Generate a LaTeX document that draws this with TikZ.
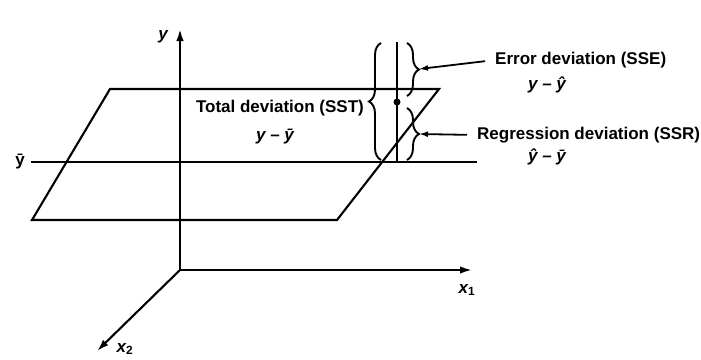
\documentclass[tikz,border=0pt]{standalone}
\usepackage{fontspec}
\setmainfont{Liberation Sans}
\usetikzlibrary{arrows.meta,decorations.pathreplacing}
\begin{document}
\begin{tikzpicture}[x=1pt, y=-1pt,
        line/.style={line width=2.1pt},
        axis/.style={line width=2.1pt, -{Latex[length=12pt,width=7.5pt]}},
        arrow/.style={line width=1.8pt, -{Latex[length=9pt,width=6pt]}, shorten <=10pt},
        bracebar/.style={line width=1.9pt, decorate, decoration={brace, amplitude=12pt}},
        lbl/.style={font=\bfseries\fontsize{17}{19}\selectfont, inner sep=0pt}
    ]
    \useasboundingbox (0,0) rectangle (701,359);
    % axes
    \coordinate (o) at (180,270);
    \coordinate (ytip) at (180,29);
    \coordinate (x1tip) at (472,270);
    \coordinate (x2tip) at (97,351);
    \draw[axis] (o) -- (ytip);
    \draw[axis] (o) -- (x1tip);
    \draw[axis] (o) -- (x2tip);
    \node[lbl] (ylab) at (163,37) {\itshape y};
    \node[lbl] (x1lab) at (467,290) {\itshape x\textsubscript{\upshape 1}};
    \node[lbl] (x2lab) at (125,349) {\itshape x\textsubscript{\upshape 2}};

    % regression plane and mean level
    \draw[line] (110,89) -- (439,89) -- (337,220) -- (32,220) -- cycle;
    \draw[line] (31,162) -- (477,162);
    \node[lbl] (ybar) at (20,162) {\=y};

    % deviations
    \draw[line] (397,42) -- (397,162);
    \fill (397,102) circle (3.5pt);
    \draw[bracebar] (381,160) -- (381,43);
    \draw[bracebar] (407,43) -- (407,96);
    \draw[bracebar] (407,108) -- (407,160);
    \coordinate (sst) at (369,101);
    \coordinate (sse) at (419,69);
    \coordinate (ssr) at (419,134);

    % labels
    \node[lbl, anchor=east] (total) at (364,108) {Total deviation (SST)};
    \node[lbl] (totalf) at (275,137) {\itshape y \upshape\textendash\ \itshape\=y};
    \node[lbl, anchor=west] (error) at (495,60) {Error deviation (SSE)};
    \node[lbl] (errorf) at (547,85) {\itshape y \upshape\textendash\ \itshape\^y};
    \node[lbl, anchor=west] (regr) at (477,135) {Regression deviation (SSR)};
    \node[lbl] (regrf) at (547,157) {\itshape\^y \upshape\textendash\ \itshape\=y};

    \draw[arrow] (error.west) -- (sse);
    \draw[arrow] (regr.west) -- (ssr);
\end{tikzpicture}
\end{document}
